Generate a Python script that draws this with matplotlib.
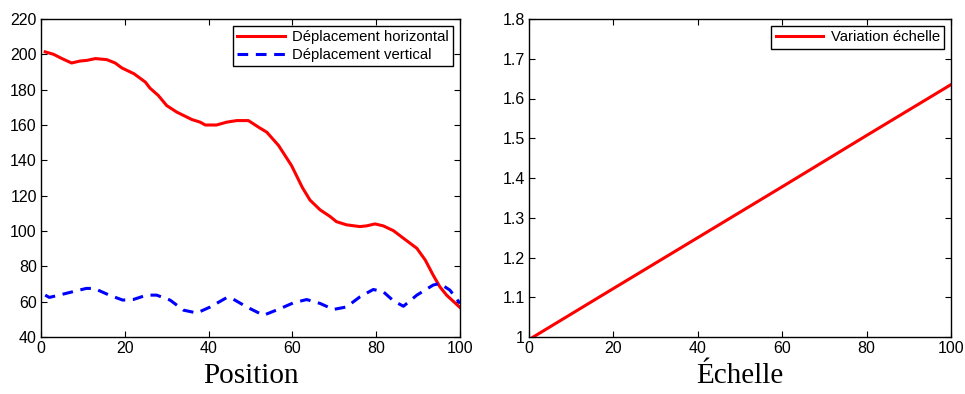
import matplotlib.pyplot as plt

# Values
pos_h = [1, 3, 5, 7.3, 9.3, 11, 13, 15.7, 17.7, 19.3, 22.2, 24.9, 26, 28, 30, 32.4,
         36, 38, 39.2, 41.9, 44.3, 46.7, 49.5, 51.9, 53.9, 56.7, 59.8, 62.4, 64.2,
         66.6, 69, 70.5, 72.9, 76.1, 77.7, 79.7, 81.7, 84.1, 86.5, 89.7, 91.7, 93.6,
         95.2, 96.8, 100]
dep_h = [201.4, 200, 197.6, 195.1, 196.2, 196.6, 197.6, 197, 195.1, 192.3, 189, 184.3,
         180.9, 176.7, 171, 167.3, 163.1, 161.6, 160, 160, 161.6, 162.5, 162.5, 158.8,
         155.9, 148.4, 137, 124.5, 117.5, 112, 108.2, 105.3, 103.5, 102.5, 102.9, 104,
         102.9, 100.2, 95.9, 90.2, 83.6, 75, 68.4, 63.7, 56.7]

pos_v = [1, 2, 6, 10.8, 12.7, 16.3, 19.5, 22, 25.2, 27.6, 30.8, 34, 37.2, 40.4, 44.4,
         45.9, 49.1, 53.1, 57.1, 60.2, 63.4, 66.6, 69.8, 72.9, 76.1, 79.3, 81.7, 84.1,
         86.5, 89.7, 93.6, 95.2, 97.6, 100]
dep_v = [63.7, 62.4, 64.7, 67.5, 67.5, 63.7, 60.9, 61.2, 63.7, 63.7, 60.9, 55.2, 53.6,
         57, 62.4, 61.4, 57, 52.3, 56.1, 59.3, 61.2, 59, 55.6, 57, 62.7, 66.9, 65.6,
         60.5, 57.4, 63.7, 69.4, 70.3, 66.5, 59]

ech_x = [1, 20, 40, 60, 80, 100]
ech_y = [1.0, 1.122, 1.25, 1.378, 1.507, 1.635]

plt.rcParams['font.family'] = 'Liberation Sans'

fig = plt.figure(figsize=(9.65, 3.94), dpi=100)
ax1 = fig.add_axes([41 / 965, 57 / 394, 419 / 965, 318 / 394])
ax2 = fig.add_axes([529 / 965, 57 / 394, 422 / 965, 318 / 394])

ax1.plot(pos_h, dep_h, color='red', lw=2.2, label='Déplacement horizontal')
ax1.plot(pos_v, dep_v, color='blue', lw=2.2, ls=(0, (3.5, 2.5)), label='Déplacement vertical')
ax1.set_xlim(0, 100)
ax1.set_ylim(40, 220)
ax1.set_yticks(range(40, 221, 20))
ax1.set_xticks(range(0, 101, 20))

ax2.plot(ech_x, ech_y, color='red', lw=2.2, label='Variation échelle')
ax2.set_xlim(0, 100)
ax2.set_ylim(1, 1.8)
ax2.set_yticks([1, 1.1, 1.2, 1.3, 1.4, 1.5, 1.6, 1.7, 1.8])
ax2.set_yticklabels(['1', '1.1', '1.2', '1.3', '1.4', '1.5', '1.6', '1.7', '1.8'])
ax2.set_xticks(range(0, 101, 20))

for ax in (ax1, ax2):
    ax.tick_params(direction='in', top=True, right=True, length=4, width=0.8,
                   labelsize=11.5, pad=3)
    for s in ax.spines.values():
        s.set_linewidth(1.0)
    leg = ax.legend(loc='upper right', fontsize=10.7, handlelength=3.2,
                    fancybox=False, framealpha=1, edgecolor='black',
                    borderaxespad=0.45, borderpad=0.3, labelspacing=0.25,
                    handletextpad=0.5)
    leg.get_frame().set_linewidth(1.0)

ax1.set_xlabel('Position', family='Liberation Serif', fontsize=21, labelpad=5)
ax2.set_xlabel('Échelle', family='Liberation Serif', fontsize=21, labelpad=5)

plt.savefig('out.png', dpi=100)
